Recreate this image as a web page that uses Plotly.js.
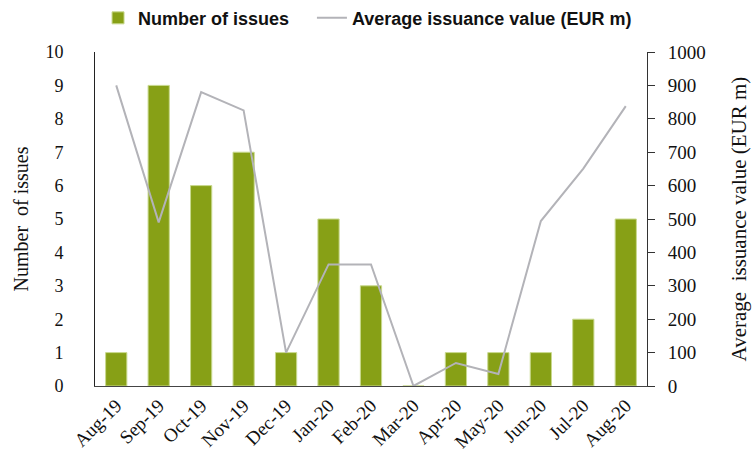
<!DOCTYPE html>
<html>
<head>
<meta charset="utf-8">
<script src="https://cdn.plot.ly/plotly-3.0.1.min.js"></script>
<style>html,body{margin:0;padding:0;background:#fff}#chart{width:755px;height:454px}</style>
</head>
<body>
<div id="chart"></div>
<script>
const months = ["Aug-19","Sep-19","Oct-19","Nov-19","Dec-19","Jan-20","Feb-20","Mar-20","Apr-20","May-20","Jun-20","Jul-20","Aug-20"];
const numberOfIssues = [1, 9, 6, 7, 1, 5, 3, 0, 1, 1, 1, 2, 5];
const avgIssuanceValue = [900, 490, 880, 825, 100, 364, 364, 0, 69, 36, 494, 651, 838];
const leftTicks = [0,1,2,3,4,5,6,7,8,9,10];
const rightTicks = [0,100,200,300,400,500,600,700,800,900,1000];

const serif = "Liberation Serif, DejaVu Serif, serif";
const sans = "Liberation Sans, Arial, sans-serif";

const traces = [
  {
    type: "bar",
    name: "Number of issues",
    x: months,
    y: numberOfIssues,
    marker: {color: "#87A016", line: {color: "#c9d98f", width: 1}},
    width: 0.5,
    yaxis: "y",
    legend: "legend"
  },
  {
    type: "scatter",
    mode: "lines",
    name: "Average issuance value (EUR m)",
    x: months,
    y: avgIssuanceValue,
    line: {color: "#B3B3B8", width: 2},
    yaxis: "y2",
    legend: "legend2"
  }
];

const legendBase = {
  orientation: "h",
  xref: "paper",
  xanchor: "left",
  yref: "container",
  y: 0.96,
  yanchor: "middle",
  font: {family: sans, size: 18, color: "#111", weight: "bold"},
  itemwidth: 30,
  bgcolor: "rgba(0,0,0,0)"
};

const layout = {
  width: 755,
  height: 454,
  margin: {l: 95, r: 108, t: 52, b: 68},
  paper_bgcolor: "#fff",
  plot_bgcolor: "#fff",
  showlegend: true,
  legend: Object.assign({}, legendBase, {x: 0.0055}),
  legend2: Object.assign({}, legendBase, {x: 0.393}),
  xaxis: {
    type: "category",
    tickangle: -45,
    tickfont: {family: serif, size: 19, color: "#111"},
    showline: true,
    linecolor: "#444",
    linewidth: 1,
    ticks: "",
    showgrid: false,
    zeroline: false
  },
  yaxis: {
    range: [0, 10],
    tickvals: leftTicks,
    ticktext: leftTicks.map(String),
    tickfont: {family: serif, size: 18, color: "#111"},
    showline: true,
    linecolor: "#222",
    linewidth: 1,
    ticks: "",
    ticklabelstandoff: 27,
    showgrid: false,
    zeroline: false,
    title: {text: "Number&nbsp; of issues", font: {family: serif, size: 20, color: "#111"}, standoff: 11}
  },
  yaxis2: {
    overlaying: "y",
    side: "right",
    range: [0, 1000],
    tickvals: rightTicks,
    ticktext: rightTicks.map(String),
    tickfont: {family: serif, size: 19, color: "#111"},
    showline: true,
    linecolor: "#333",
    linewidth: 1,
    ticks: "outside",
    ticklen: 7,
    tickcolor: "#333",
    ticklabelstandoff: 9,
    showgrid: false,
    zeroline: false,
    title: {text: "Average&nbsp; issuance value (EUR m)", font: {family: serif, size: 21, color: "#111"}, standoff: 26}
  }
};

Plotly.newPlot("chart", traces, layout, {displayModeBar: false, staticPlot: true});
</script>
</body>
</html>
